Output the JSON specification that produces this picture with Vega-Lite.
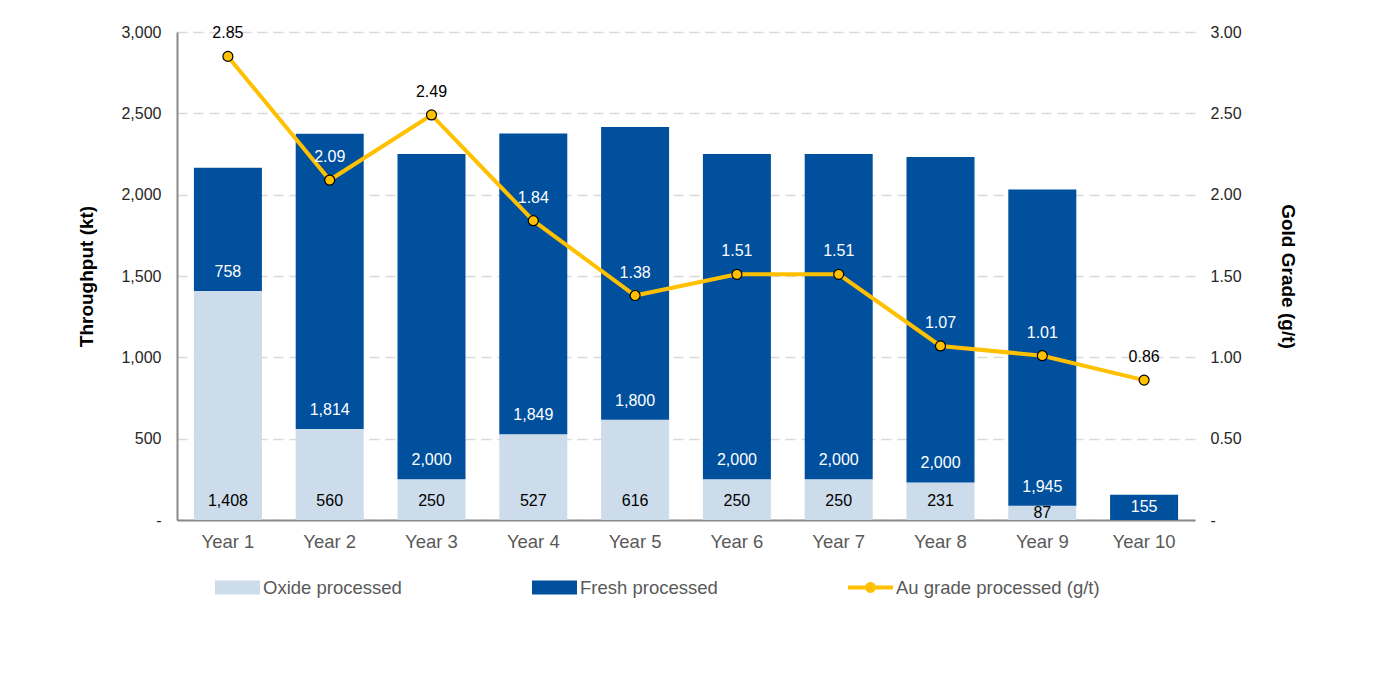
{
  "$schema": "https://vega.github.io/schema/vega-lite/v6.json",
  "width": 1018,
  "height": 488,
  "autosize": {"type": "none"},
  "padding": {"left": 177, "top": 32, "right": 194, "bottom": 153},
  "background": "white",
  "config": {
    "view": {"stroke": null},
    "font": "Liberation Sans",
    "axis": {"labelFont": "Liberation Sans", "titleFont": "Liberation Sans"},
    "legend": {"labelFont": "Liberation Sans"}
  },
  "data": {
    "values": [
      {"year": "Year 1", "Oxide processed": 1408, "Fresh processed": 758, "au": 2.85},
      {"year": "Year 2", "Oxide processed": 560, "Fresh processed": 1814, "au": 2.09},
      {"year": "Year 3", "Oxide processed": 250, "Fresh processed": 2000, "au": 2.49},
      {"year": "Year 4", "Oxide processed": 527, "Fresh processed": 1849, "au": 1.84},
      {"year": "Year 5", "Oxide processed": 616, "Fresh processed": 1800, "au": 1.38},
      {"year": "Year 6", "Oxide processed": 250, "Fresh processed": 2000, "au": 1.51},
      {"year": "Year 7", "Oxide processed": 250, "Fresh processed": 2000, "au": 1.51},
      {"year": "Year 8", "Oxide processed": 231, "Fresh processed": 2000, "au": 1.07},
      {"year": "Year 9", "Oxide processed": 87, "Fresh processed": 1945, "au": 1.01},
      {"year": "Year 10", "Oxide processed": 0, "Fresh processed": 155, "au": 0.86}
    ]
  },
  "encoding": {
    "x": {
      "field": "year",
      "type": "nominal",
      "sort": null,
      "scale": {"paddingInner": 0.332, "paddingOuter": 0.166},
      "axis": {
        "title": null,
        "labelAngle": 0,
        "labelFontSize": 18.5,
        "labelColor": "#595959",
        "labelPadding": 12,
        "ticks": false,
        "domainColor": "#898989",
        "domainWidth": 2
      }
    }
  },
  "layer": [
    {
      "layer": [
        {
          "transform": [
            {"fold": ["Oxide processed", "Fresh processed"], "as": ["series", "kt"]},
            {"calculate": "datum.series === 'Oxide processed' ? 0 : 1", "as": "stackOrder"}
          ],
          "mark": {"type": "bar"},
          "encoding": {
            "y": {
              "field": "kt",
              "type": "quantitative",
              "stack": "zero",
              "title": "Throughput (kt)",
              "scale": {"domain": [0, 3000], "nice": false},
              "axis": {
                "title": "Throughput (kt)",
                "titleFontSize": 19,
                "titleFontWeight": "bold",
                "titleColor": "#000000",
                "titlePadding": 24,
                "values": [0, 500, 1000, 1500, 2000, 2500, 3000],
                "labelExpr": "datum.value === 0 ? '-' : format(datum.value, ',')",
                "labelFontSize": 16,
                "labelColor": "#262626",
                "labelPadding": 16,
                "ticks": false,
                "domainColor": "#898989",
                "domainWidth": 2,
                "grid": true,
                "gridColor": "#D9D9D9",
                "gridWidth": 1.5,
                "gridDash": [10, 6]
              }
            },
            "order": {"field": "stackOrder", "type": "quantitative"},
            "color": {
              "field": "series",
              "type": "nominal",
              "scale": {
                "domain": ["Oxide processed", "Fresh processed", "Au grade processed (g/t)"],
                "range": ["#CCDCEB", "#00509E", "#FFC000"]
              },
              "legend": {
                "orient": "none",
                "legendX": 38,
                "legendY": 533,
                "direction": "horizontal",
                "title": null,
                "symbolSize": 2025,
                "symbolType": "M-1,-0.31H1V0.31H-1Z",
                "symbolStrokeWidth": 0,
                "labelFontSize": 18.5,
                "labelColor": "#595959",
                "labelOffset": 3,
                "labelLimit": 300,
                "columnPadding": 130,
                "encode": {
                  "symbols": {
                    "update": {
                      "shape": {"signal": "datum.value === 'Au grade processed (g/t)' ? 'M-1,-0.09H1V0.09H-1Z M0.24,0A0.24,0.24,0,1,1,-0.24,0A0.24,0.24,0,1,1,0.24,0Z' : 'M-1,-0.31H1V0.31H-1Z'"},
                      "fill": {"scale": "color", "field": "value"},
                      "strokeWidth": {"value": 0},
                      "opacity": {"value": 1}
                    }
                  }
                }
              }
            }
          }
        },
        {
          "transform": [
            {"filter": "datum['Oxide processed'] > 0"},
            {"calculate": "min(datum['Oxide processed'] / 2, 117)", "as": "oxideLabelPos"}
          ],
          "mark": {"type": "text", "fontSize": 16, "color": "#000000", "baseline": "middle"},
          "encoding": {
            "y": {"field": "oxideLabelPos", "type": "quantitative", "title": "Throughput (kt)", "scale": {"domain": [0, 3000], "nice": false}},
            "text": {"field": "Oxide processed", "type": "quantitative", "format": ","}
          }
        },
        {
          "transform": [
            {"calculate": "datum['Oxide processed'] + min(datum['Fresh processed'] / 2, 117)", "as": "freshLabelPos"}
          ],
          "mark": {"type": "text", "fontSize": 16, "color": "#FFFFFF", "baseline": "middle"},
          "encoding": {
            "y": {"field": "freshLabelPos", "type": "quantitative", "title": "Throughput (kt)", "scale": {"domain": [0, 3000], "nice": false}},
            "text": {"field": "Fresh processed", "type": "quantitative", "format": ","}
          }
        }
      ]
    },
    {
      "encoding": {
        "y": {
          "field": "au",
          "type": "quantitative",
          "scale": {"domain": [0, 3], "nice": false},
          "axis": {
            "orient": "right",
            "title": "Gold Grade (g/t)",
            "titleFontSize": 19,
            "titleFontWeight": "bold",
            "titleColor": "#000000",
            "titlePadding": 36,
            "values": [0, 0.5, 1, 1.5, 2, 2.5, 3],
            "labelExpr": "datum.value === 0 ? '-' : format(datum.value, '.2f')",
            "labelFontSize": 16,
            "labelColor": "#262626",
            "labelPadding": 15,
            "ticks": false,
            "domain": false,
            "grid": false
          }
        }
      },
      "layer": [
        {
          "mark": {"type": "line", "strokeWidth": 4},
          "encoding": {
            "color": {"datum": "Au grade processed (g/t)", "type": "nominal"}
          }
        },
        {
          "mark": {"type": "point", "shape": "circle", "filled": true, "size": 100, "fill": "#FFC000", "stroke": "#000000", "strokeWidth": 1.2, "opacity": 1}
        },
        {
          "mark": {"type": "text", "fontSize": 16, "dy": -23, "baseline": "middle"},
          "encoding": {
            "text": {"field": "au", "type": "quantitative", "format": ".2f"},
            "color": {
              "condition": {"test": "datum.au * 1000 < datum['Oxide processed'] + datum['Fresh processed']", "value": "#FFFFFF"},
              "value": "#000000"
            }
          }
        }
      ]
    }
  ],
  "resolve": {"scale": {"y": "independent"}}
}
